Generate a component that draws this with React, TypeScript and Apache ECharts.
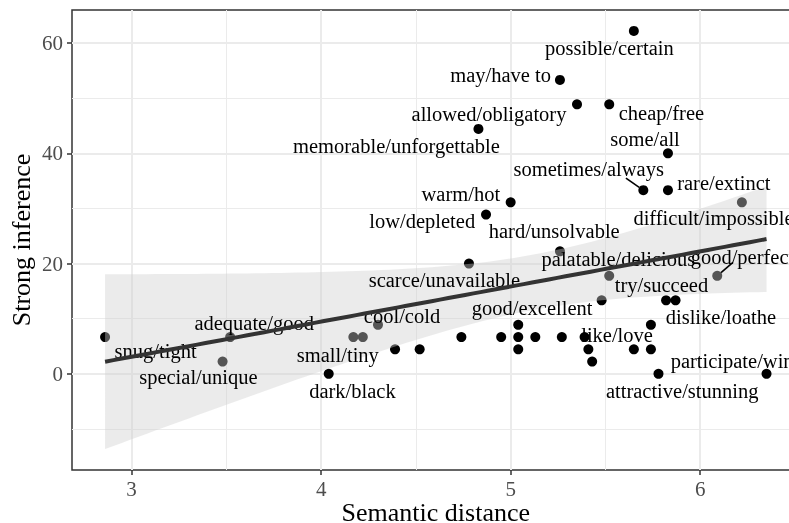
import React, { useEffect, useRef } from 'react';
import * as echarts from 'echarts';

// ---- data ----
const semanticDistance = [
  2.86, 3.52, 3.48, 4.04, 4.17, 4.22, 4.30, 4.39, 4.52, 4.74, 4.78, 4.83, 4.87, 4.95,
  5.00, 5.04, 5.04, 5.04, 5.13, 5.26, 5.26, 5.27, 5.35, 5.39, 5.41, 5.43, 5.48, 5.52,
  5.52, 5.65, 5.65, 5.70, 5.74, 5.74, 5.78, 5.82, 5.83, 5.83, 5.87, 6.09, 6.22, 6.35,
];
const strongInference = [
  6.67, 6.67, 2.22, 0, 6.67, 6.67, 8.89, 4.44, 4.44, 6.67, 20.0, 44.44, 28.89, 6.67,
  31.11, 8.89, 6.67, 4.44, 6.67, 53.33, 22.22, 6.67, 48.89, 6.67, 4.44, 2.22, 13.33, 48.89,
  17.78, 4.44, 62.22, 33.33, 8.89, 4.44, 0, 13.33, 40.0, 33.33, 13.33, 17.78, 31.11, 0,
];
const pairLabels = [
  'snug/tight', 'adequate/good', 'special/unique', 'dark/black', 'small/tiny', '', 'cool/cold',
  '', '', '', 'scarce/unavailable', 'memorable/unforgettable', 'low/depleted', '',
  'warm/hot', 'good/excellent', '', '', '', 'may/have to', 'hard/unsolvable', '',
  'allowed/obligatory', '', '', '', '', 'cheap/free',
  'palatable/delicious', 'like/love', 'possible/certain', 'sometimes/always', '', '',
  'attractive/stunning', 'try/succeed', 'some/all', 'rare/extinct', 'dislike/loathe',
  'good/perfect', 'difficult/impossible', 'participate/win',
];
const xTicks = [3, 4, 5, 6];
const xMinorGrid = [3.5, 4.5, 5.5, 6.5];
const yTicks = [0, 20, 40, 60];
const yMinorGrid = [-10, 10, 30, 50];

// ---- label layout (pixel offsets of label centre from its point) ----
const labelOffsets: Record<string, [number, number]> = {
  'snug/tight': [50.5, 14.2],
  'adequate/good': [24, -14.2],
  'special/unique': [-24.2, 15.3],
  'dark/black': [23.7, 17.4],
  'small/tiny': [-15.5, 17.5],
  'cool/cold': [24, -9],
  'scarce/unavailable': [-24.6, 16.8],
  'memorable/unforgettable': [-82, 16.7],
  'low/depleted': [-63.8, 5.9],
  'warm/hot': [-49.8, -8.6],
  'good/excellent': [13.9, -16.9],
  'may/have to': [-59.3, -4.9],
  'hard/unsolvable': [-5.7, -19.9],
  'allowed/obligatory': [-88, 9.6],
  'cheap/free': [52.2, 8.3],
  'palatable/delicious': [9.2, -17.2],
  'like/love': [-16.8, -14.1],
  'possible/certain': [-24.5, 16.8],
  'sometimes/always': [-54.6, -21],
  'attractive/stunning': [23.7, 17.4],
  'try/succeed': [-4.6, -15],
  'some/all': [-22.9, -14.2],
  'rare/extinct': [55.9, -7.6],
  'dislike/loathe': [45.4, 16.6],
  'good/perfect': [25.2, -19.2],
  'difficult/impossible': [-28.4, 15.7],
  'participate/win': [-34.4, -12.6],
};
const leaderEnds: Record<string, [number, number]> = {
  'sometimes/always': [-17.4, -12],
  'good/perfect': [15.7, -13.5],
};

const FONT = '"Liberation Serif", "Times New Roman", serif';

function linearFit(xs: number[], ys: number[]) {
  const n = xs.length;
  const mx = xs.reduce((a, b) => a + b, 0) / n;
  const my = ys.reduce((a, b) => a + b, 0) / n;
  let sxx = 0, sxy = 0;
  for (let i = 0; i < n; i++) {
    sxx += (xs[i] - mx) ** 2;
    sxy += (xs[i] - mx) * (ys[i] - my);
  }
  const slope = sxy / sxx;
  const intercept = my - slope * mx;
  let sse = 0;
  for (let i = 0; i < n; i++) sse += (ys[i] - (intercept + slope * xs[i])) ** 2;
  const s = Math.sqrt(sse / (n - 2));
  const tCrit = 2.0211; // qt(0.975, 40)
  const lo = Math.min(...xs), hi = Math.max(...xs);
  const band: number[][] = [];
  const N = 80;
  for (let k = 0; k < N; k++) {
    const x = lo + ((hi - lo) * k) / (N - 1);
    const f = intercept + slope * x;
    const se = s * Math.sqrt(1 / n + (x - mx) ** 2 / sxx);
    band.push([x, f - tCrit * se, f + tCrit * se, f]);
  }
  return { band, lo, hi };
}

export default function App() {
  const ref = useRef<HTMLDivElement>(null);
  useEffect(() => {
    if (!ref.current) return;
    const chart = echarts.init(ref.current, undefined, { renderer: 'svg' });
    const { band, lo, hi } = linearFit(semanticDistance, strongInference);
    const xMin = lo - 0.05 * (hi - lo);
    const xMax = hi + 0.05 * (hi - lo);
    const yAllLo = Math.min(...strongInference, ...band.map((b) => b[1]));
    const yAllHi = Math.max(...strongInference, ...band.map((b) => b[2]));
    const yMin = yAllLo - 0.05 * (yAllHi - yAllLo);
    const yMax = yAllHi + 0.05 * (yAllHi - yAllLo);

    const major = { color: '#EBEBEB', width: 2, type: 'solid' };
    const minor = { color: '#EBEBEB', width: 1, type: 'solid' };
    const gridData = [
      ...xMinorGrid.map((v) => ({ xAxis: v, lineStyle: minor })),
      ...yMinorGrid.map((v) => ({ yAxis: v, lineStyle: minor })),
      ...xTicks.map((v) => ({ xAxis: v, lineStyle: major })),
      ...yTicks.map((v) => ({ yAxis: v, lineStyle: major })),
    ];

    const labelled = pairLabels.map((l, i) => i).filter((i) => pairLabels[i] !== '');

    chart.setOption({
      animation: false,
      grid: {
        left: 72,
        top: 10,
        height: 460,
        width: 727.6,
        outerBoundsMode: 'none',
        containLabel: false,
        show: true,
        borderColor: '#333333',
        borderWidth: 1.5,
        backgroundColor: '#ffffff',
      },
      xAxis: {
        type: 'value',
        min: xMin,
        max: xMax,
        axisLine: { show: false, onZero: false },
        splitLine: { show: false },
        axisTick: { show: true, length: 5, lineStyle: { color: '#333333', width: 1.5 }, customValues: xTicks },
        axisLabel: { customValues: xTicks, color: '#4D4D4D', fontSize: 21, fontFamily: FONT, margin: 8 },
        name: 'Semantic distance',
        nameLocation: 'middle',
        nameGap: 32,
        nameMoveOverlap: false,
        nameTextStyle: { fontSize: 26, lineHeight: 20, color: '#000', fontFamily: FONT },
      },
      yAxis: {
        type: 'value',
        min: yMin,
        max: yMax,
        axisLine: { show: false, onZero: false },
        splitLine: { show: false },
        axisTick: { show: true, length: 5, lineStyle: { color: '#333333', width: 1.5 }, customValues: yTicks },
        axisLabel: { customValues: yTicks, color: '#4D4D4D', fontSize: 21, fontFamily: FONT, margin: 9 },
        name: 'Strong inference',
        nameLocation: 'middle',
        nameGap: 38,
        nameMoveOverlap: false,
        nameTextStyle: { fontSize: 26, color: '#000', fontFamily: FONT },
      },
      series: [
        {
          type: 'scatter',
          z: 2,
          silent: true,
          symbolSize: 10,
          itemStyle: { color: '#000000', opacity: 1 },
          data: semanticDistance.map((x, i) => [x, strongInference[i]]),
          markLine: {
            silent: true,
            z: 1,
            symbol: 'none',
            label: { show: false },
            animation: false,
            data: gridData,
          },
        },
        {
          type: 'custom',
          z: 3,
          silent: true,
          data: [[band[0][0], band[0][1]]],
          renderItem: (params: any, api: any) => {
            if (params.dataIndex !== 0) return null;
            const upper = band.map((b) => api.coord([b[0], b[2]]));
            const lower = band.map((b) => api.coord([b[0], b[1]])).reverse();
            return {
              type: 'polygon',
              shape: { points: [...upper, ...lower] },
              style: { fill: 'rgba(206,206,206,0.41)', stroke: 'none' },
            };
          },
        },
        {
          type: 'custom',
          z: 4,
          silent: true,
          data: labelled.map((i) => [semanticDistance[i], strongInference[i], i]),
          renderItem: (params: any, api: any) => {
            const idx = api.value(2);
            const text = pairLabels[idx];
            const [cx, cy] = api.coord([api.value(0), api.value(1)]);
            const off = labelOffsets[text] || [0, 0];
            const children: any[] = [
              {
                type: 'text',
                style: {
                  text,
                  x: cx + off[0],
                  y: cy + off[1],
                  align: 'center',
                  verticalAlign: 'middle',
                  textAlign: 'center',
                  textVerticalAlign: 'middle',
                  fill: '#000000',
                  fontSize: 20.5,
                  fontFamily: FONT,
                  font: '20.5px ' + FONT,
                },
              },
            ];
            const le = leaderEnds[text];
            if (le) {
              const d = Math.hypot(le[0], le[1]);
              const r = 5;
              children.push({
                type: 'line',
                shape: { x1: cx + (le[0] / d) * r, y1: cy + (le[1] / d) * r, x2: cx + le[0], y2: cy + le[1] },
                style: { stroke: '#000000', lineWidth: 1.6 },
              });
            }
            return { type: 'group', children };
          },
        },
        {
          type: 'line',
          z: 5,
          silent: true,
          symbol: 'none',
          showSymbol: false,
          lineStyle: { color: '#333333', width: 4 },
          data: band.map((b) => [b[0], b[3]]),
        },
      ],
    });
    return () => chart.dispose();
  }, []);
  return <div ref={ref} style={{ position: 'fixed', left: 0, top: 0, width: 789, height: 523 }} />;
}
